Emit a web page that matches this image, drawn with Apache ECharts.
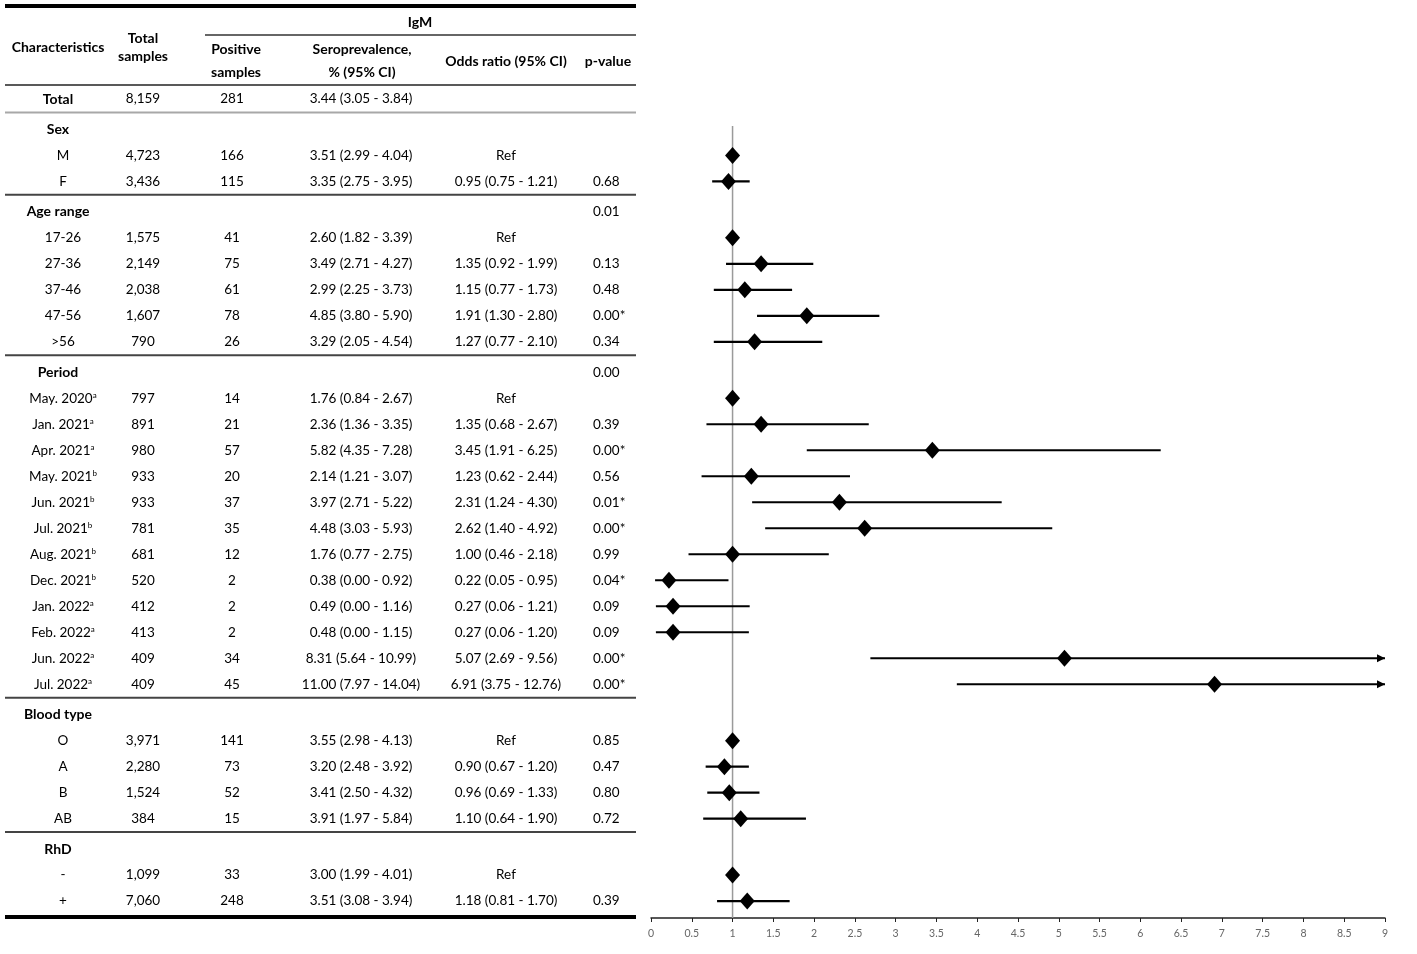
<!DOCTYPE html>
<html>
<head>
<meta charset="utf-8">
<script src="https://cdn.jsdelivr.net/npm/echarts@6/dist/echarts.min.js"></script>
<style>
  html, body { margin: 0; background: #fff; }
  #main { width: 1417px; height: 954px; }
</style>
</head>
<body>
<div id="main"></div>
<script>
// table rows, top to bottom
const rowLabels = ['Total', 'Sex', 'M', 'F', 'Age range', '17-26', '27-36', '37-46', '47-56', '>56',
  'Period', 'May. 2020', 'Jan. 2021', 'Apr. 2021', 'May. 2021', 'Jun. 2021', 'Jul. 2021', 'Aug. 2021',
  'Dec. 2021', 'Jan. 2022', 'Feb. 2022', 'Jun. 2022', 'Jul. 2022',
  'Blood type', 'O', 'A', 'B', 'AB', 'RhD', '-', '+'];
const rowNotes = ['', '', '', '', '', '', '', '', '', '',
  '', 'a', 'a', 'a', 'b', 'b', 'b', 'b', 'b', 'a', 'a', 'a', 'a',
  '', '', '', '', '', '', '', ''];
const groupRows = ['Sex', 'Age range', 'Period', 'Blood type', 'RhD'];
const totalSamples = ['8,159', '', '4,723', '3,436', '', '1,575', '2,149', '2,038', '1,607', '790',
  '', '797', '891', '980', '933', '933', '781', '681', '520', '412', '413', '409', '409',
  '', '3,971', '2,280', '1,524', '384', '', '1,099', '7,060'];
const positiveSamples = ['281', '', '166', '115', '', '41', '75', '61', '78', '26',
  '', '14', '21', '57', '20', '37', '35', '12', '2', '2', '2', '34', '45',
  '', '141', '73', '52', '15', '', '33', '248'];
const seroprevalence = ['3.44 (3.05 - 3.84)', '', '3.51 (2.99 - 4.04)', '3.35 (2.75 - 3.95)', '',
  '2.60 (1.82 - 3.39)', '3.49 (2.71 - 4.27)', '2.99 (2.25 - 3.73)', '4.85 (3.80 - 5.90)', '3.29 (2.05 - 4.54)',
  '', '1.76 (0.84 - 2.67)', '2.36 (1.36 - 3.35)', '5.82 (4.35 - 7.28)', '2.14 (1.21 - 3.07)',
  '3.97 (2.71 - 5.22)', '4.48 (3.03 - 5.93)', '1.76 (0.77 - 2.75)', '0.38 (0.00 - 0.92)',
  '0.49 (0.00 - 1.16)', '0.48 (0.00 - 1.15)', '8.31 (5.64 - 10.99)', '11.00 (7.97 - 14.04)',
  '', '3.55 (2.98 - 4.13)', '3.20 (2.48 - 3.92)', '3.41 (2.50 - 4.32)', '3.91 (1.97 - 5.84)',
  '', '3.00 (1.99 - 4.01)', '3.51 (3.08 - 3.94)'];
// odds ratios (null lower = reference group)
const orEstimate = [null, null, 1, 0.95, null, 1, 1.35, 1.15, 1.91, 1.27,
  null, 1, 1.35, 3.45, 1.23, 2.31, 2.62, 1.00, 0.22, 0.27, 0.27, 5.07, 6.91,
  null, 1, 0.90, 0.96, 1.10, null, 1, 1.18];
const orLower = [null, null, null, 0.75, null, null, 0.92, 0.77, 1.30, 0.77,
  null, null, 0.68, 1.91, 0.62, 1.24, 1.40, 0.46, 0.05, 0.06, 0.06, 2.69, 3.75,
  null, null, 0.67, 0.69, 0.64, null, null, 0.81];
const orUpper = [null, null, null, 1.21, null, null, 1.99, 1.73, 2.80, 2.10,
  null, null, 2.67, 6.25, 2.44, 4.30, 4.92, 2.18, 0.95, 1.21, 1.20, 9.56, 12.76,
  null, null, 1.20, 1.33, 1.90, null, null, 1.70];
const pValues = ['', '', '', '0.68', '0.01', '', '0.13', '0.48', '0.00*', '0.34',
  '0.00', '', '0.39', '0.00*', '0.56', '0.01*', '0.00*', '0.99', '0.04*', '0.09', '0.09', '0.00*', '0.00*',
  '', '0.85', '0.47', '0.80', '0.72', '', '', '0.39'];
const xTicks = [0, 9, 0.5];

const FONT = 'Lato, "Noto Sans", sans-serif';
const X_MAX = xTicks[1];
const Y_MIN = -3.5, Y_MAX = 31.5;

// group heading rows get a little extra space above them
function rowPos(i) {
  let g = 0;
  for (let k = 0; k <= i; k++) if (groupRows.indexOf(rowLabels[k]) >= 0) g++;
  return i + 0.17 * g;
}
function fmt(v) { return v.toFixed(2); }

const diamonds = [], whiskers = [];
rowLabels.forEach(function (lab, i) {
  if (orEstimate[i] == null) return;
  diamonds.push([orEstimate[i], rowPos(i)]);
  if (orLower[i] != null) {
    whiskers.push([orLower[i], Math.min(orUpper[i], X_MAX), rowPos(i), orUpper[i] > X_MAX ? 1 : 0]);
  }
});

const chart = echarts.init(document.getElementById('main'));

chart.setOption({
  animation: false,
  backgroundColor: '#fff',
  grid: { left: 651, right: 32, top: 8, bottom: 36 },
  xAxis: {
    type: 'value', min: xTicks[0], max: xTicks[1], interval: xTicks[2],
    splitLine: { show: false },
    axisLine: { show: true, onZero: false, lineStyle: { color: '#222', width: 1.5 } },
    axisTick: { show: true, length: 4, lineStyle: { color: '#222' } },
    axisLabel: { color: '#666', fontSize: 10.5, fontFamily: FONT, margin: 10 }
  },
  yAxis: {
    type: 'value', inverse: true, min: Y_MIN, max: Y_MAX, show: false
  },
  series: [
    {
      type: 'line',
      data: [[1, rowPos(1) - 0.13], [1, Y_MAX]],
      symbol: 'none',
      lineStyle: { color: '#9a9a9a', width: 1.5 },
      z: 1
    },
    {
      type: 'custom',
      data: whiskers,
      z: 2,
      renderItem: function (params, api) {
        const y = api.value(2);
        const p1 = api.coord([api.value(0), y]);
        const p2 = api.coord([api.value(1), y]);
        const kids = [{
          type: 'line',
          shape: { x1: p1[0], y1: p1[1], x2: p2[0], y2: p2[1] },
          style: { stroke: '#000', lineWidth: 2.2 }
        }];
        if (api.value(3)) {
          kids.push({
            type: 'polygon',
            shape: { points: [[p2[0], p2[1]], [p2[0] - 8, p2[1] - 4], [p2[0] - 8, p2[1] + 4]] },
            style: { fill: '#000' }
          });
        }
        return { type: 'group', children: kids };
      }
    },
    {
      type: 'scatter',
      data: diamonds,
      symbol: 'diamond',
      symbolSize: [15, 17],
      itemStyle: { color: '#000', opacity: 1 },
      z: 3
    }
  ]
});

// table drawn as text on the same row scale
const rowY = rowLabels.map(function (l, i) { return chart.convertToPixel({ yAxisIndex: 0 }, rowPos(i)); });
const els = [];
function txt(x, y, s, opt) {
  opt = opt || {};
  els.push({
    type: 'text', x: x, y: y, silent: true,
    style: Object.assign({
      text: s, fill: '#000', font: (opt.bold ? 'bold 14px ' : '13.5px ') + FONT,
      textAlign: opt.align || 'center', textVerticalAlign: 'middle'
    }, opt.style || {})
  });
}
function hline(x1, x2, y, w, c) {
  els.push({ type: 'line', silent: true, shape: { x1: x1, y1: y, x2: x2, y2: y }, style: { stroke: c, lineWidth: w } });
}

// header
hline(5, 636, 6, 4, '#000');
txt(420, 22, 'IgM', { bold: true });
hline(205, 636, 35, 1.5, '#333');
txt(58, 47, 'Characteristics', { bold: true });
txt(143, 38, 'Total', { bold: true });
txt(143, 56, 'samples', { bold: true });
txt(236, 49, 'Positive', { bold: true });
txt(236, 72, 'samples', { bold: true });
txt(362, 49, 'Seroprevalence,', { bold: true });
txt(362, 72, '% (95% CI)', { bold: true });
txt(506, 61, 'Odds ratio (95% CI)', { bold: true });
txt(608, 61, 'p-value', { bold: true });
hline(5, 636, 85, 1.5, '#222');

rowLabels.forEach(function (lab, i) {
  const y = rowY[i];
  const isGroup = groupRows.indexOf(lab) >= 0;
  if (isGroup) {
    hline(5, 636, y - 17, 2, i === 1 ? '#a8a8a8' : '#444');
  }
  if (isGroup || i === 0) {
    txt(58, y, lab, { bold: true });
  } else if (rowNotes[i]) {
    txt(63, y, lab + '{s|' + rowNotes[i] + '}', {
      style: { rich: { s: { fontSize: 8, fontFamily: FONT, verticalAlign: 'top', fill: '#000' } } }
    });
  } else {
    txt(63, y, lab);
  }
  if (totalSamples[i]) txt(143, y, totalSamples[i]);
  if (positiveSamples[i]) txt(232, y, positiveSamples[i]);
  if (seroprevalence[i]) txt(361, y, seroprevalence[i]);
  if (orEstimate[i] != null) {
    txt(506, y, orLower[i] == null ? 'Ref' : fmt(orEstimate[i]) + ' (' + fmt(orLower[i]) + ' - ' + fmt(orUpper[i]) + ')');
  }
  if (pValues[i]) txt(593, y, pValues[i], { align: 'left' });
});
hline(5, 636, 917, 4, '#000');

chart.setOption({ graphic: { elements: els } });
</script>
</body>
</html>
